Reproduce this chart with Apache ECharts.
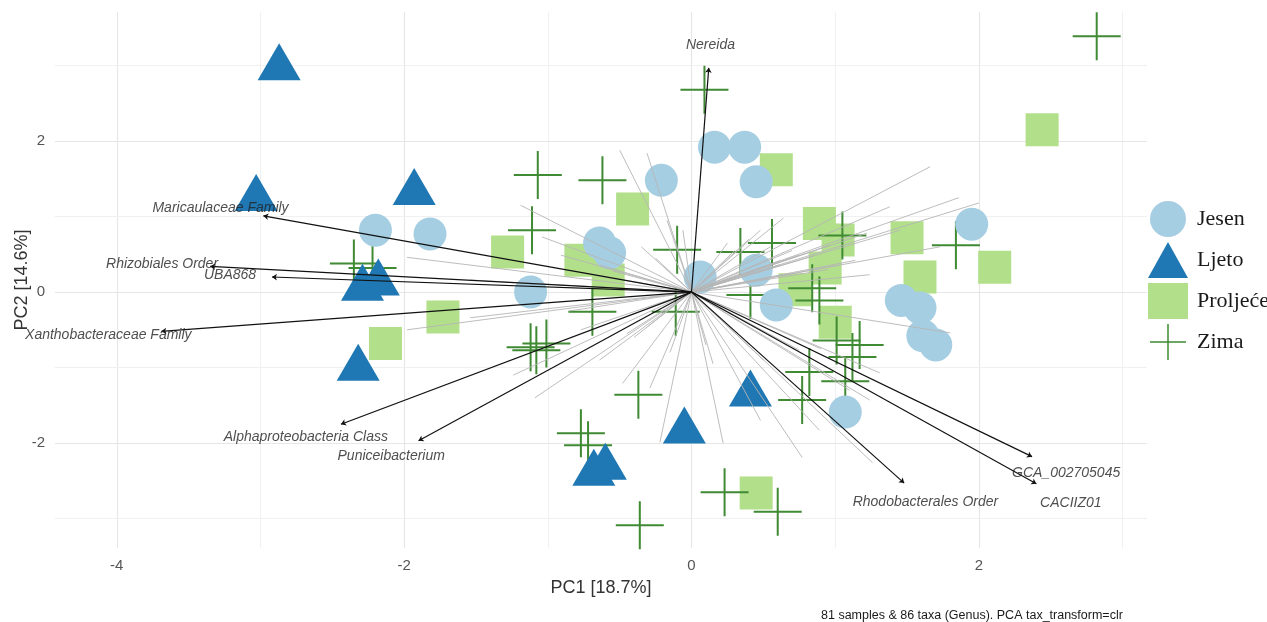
<!DOCTYPE html>
<html><head><meta charset="utf-8">
<script src="https://cdn.jsdelivr.net/npm/echarts@6/dist/echarts.min.js"></script>
<style>html,body{margin:0;padding:0;background:#fff}#c{width:1267px;height:622px}</style>
</head><body><div id="c"></div>
<script>
// ---- data (PC1, PC2) ----
const seasonNames = ['Jesen', 'Ljeto', 'Proljeće', 'Zima'];
const jesenPoints = [[0.16,1.92],[0.37,1.92],[0.45,1.46],[-0.21,1.48],[-0.64,0.65],[-0.57,0.52],[-1.12,0.00],[-2.20,0.82],[-1.82,0.77],[0.06,0.20],[0.45,0.29],[0.59,-0.17],[1.95,0.90],[1.46,-0.11],[1.59,-0.21],[1.61,-0.58],[1.70,-0.70],[1.07,-1.59]];
const ljetoPoints = [[-2.87,3.05],[-3.03,1.32],[-1.93,1.40],[-2.29,0.13],[-2.18,0.20],[-2.32,-0.93],[0.41,-1.27],[-0.05,-1.76],[-0.68,-2.32],[-0.60,-2.24]];
const proljecePoints = [[2.44,2.15],[0.59,1.62],[-0.41,1.10],[-1.28,0.53],[-0.77,0.42],[-0.58,0.16],[-1.73,-0.33],[-2.13,-0.68],[0.89,0.91],[1.02,0.69],[1.50,0.72],[2.11,0.33],[1.59,0.20],[0.93,0.32],[0.72,0.03],[1.00,-0.40],[0.45,-2.66]];
const zimaPoints = [[2.82,3.39],[0.09,2.68],[-1.07,1.55],[-0.62,1.48],[-1.11,0.82],[-0.10,0.56],[0.34,0.53],[0.56,0.65],[1.84,0.62],[1.05,0.75],[-2.35,0.38],[-2.22,0.32],[-0.69,-0.26],[-0.11,-0.26],[-1.12,-0.73],[-1.08,-0.77],[-1.01,-0.68],[-0.37,-1.36],[-0.77,-1.87],[-0.72,-2.03],[0.23,-2.65],[0.60,-2.91],[-0.36,-3.09],[0.41,-0.04],[0.84,0.05],[0.89,-0.11],[1.01,-0.64],[1.17,-0.70],[1.12,-0.86],[0.82,-1.06],[1.07,-1.18],[0.77,-1.43]];

// labelled taxa loadings (arrow tips)
const taxaNames = ['Nereida','Maricaulaceae Family','Rhizobiales Order','UBA868','Xanthobacteraceae Family','Alphaproteobacteria Class','Puniceibacterium','Rhodobacterales Order','GCA_002705045','CACIIZ01'];
const taxaPC1 = [0.12,-2.98,-3.35,-2.92,-3.69,-2.44,-1.90,1.48,2.37,2.40];
const taxaPC2 = [2.97,1.01,0.34,0.20,-0.52,-1.75,-1.97,-2.53,-2.18,-2.54];

// other (unlabelled) taxa loadings
const otherPC1 = [-0.50,-0.31,-1.19,-1.04,-0.17,-0.25,-0.06,-1.98,-0.64,-0.91,-0.77,-1.54,-1.98,-1.54,-1.24,-1.09,-0.77,-0.48,-0.29,-0.22,-0.64,0.22,0.77,1.26,1.31,1.24,1.80,0.48,0.89,0.75,1.66,1.38,1.86,2.00,1.22,1.73,0.64,1.14,1.45,0.96,0.48,0.75,1.24,1.03,0.61,-0.35,0.30,0.10,-0.45,1.10,0.55,0.70,0.85,0.40,0.62,0.95,0.35,0.25,-0.30,-0.40,-0.15,0.15,0.50,0.90,-0.55,-0.85];
const otherPC2 = [1.88,1.84,1.15,0.73,0.95,0.45,0.82,0.46,0.36,0.49,0.26,0.16,-0.50,-0.34,-1.10,-1.40,-0.50,-1.21,-1.27,-1.99,-0.90,-2.00,-2.19,-2.26,-1.07,-1.43,-0.54,-1.70,-1.83,-0.77,1.66,1.13,1.25,1.18,0.78,0.60,0.98,0.42,0.82,0.62,0.82,0.49,0.23,0.36,0.36,0.60,0.55,-0.70,-0.55,-1.30,0.60,0.55,0.48,0.70,0.42,0.30,0.25,0.65,-0.45,-0.60,-0.80,-0.95,-0.90,-0.75,0.28,-0.25];

// axis ticks / text
const xMajorTicks = [-4, -2, 0, 2];
const xMinorTicks = [-3, -1, 1, 3];
const yMajorTicks = [-2, 0, 2];
const yMinorTicks = [-3, -1, 1, 3];
const xTitle = 'PC1 [18.7%]';
const yTitle = 'PC2 [14.6%]';
const caption = '81 samples & 86 taxa (Genus). PCA tax_transform=clr';

// ---- build ----
const colors = {Jesen:'#a6cee3', Ljeto:'#1f78b4', 'Proljeće':'#b2df8a', Zima:'#3f8a33'};
const plusPath = 'path://M23,0H25V23H48V25H25V48H23V25H0V23H23Z';
const labelScale = 1.1;

const gridLines = [];
xMajorTicks.forEach(v => gridLines.push({xAxis: v, lineStyle: {color: '#e6e6e6', width: 1.1}}));
xMinorTicks.forEach(v => gridLines.push({xAxis: v, lineStyle: {color: '#f0f0f0', width: 1}}));
yMajorTicks.forEach(v => gridLines.push({yAxis: v, lineStyle: {color: '#e6e6e6', width: 1.1}}));
yMinorTicks.forEach(v => gridLines.push({yAxis: v, lineStyle: {color: '#f0f0f0', width: 1}}));

const otherLines = otherPC1.map((x, i) => ({coords: [[0, 0], [x, otherPC2[i]]]}));
const taxaLines = taxaPC1.map((x, i) => ({coords: [[0, 0], [x, taxaPC2[i]]]}));
const taxaLabels = taxaNames.map((n, i) => ({name: n, value: [taxaPC1[i] * labelScale, taxaPC2[i] * labelScale]}));

const chart = echarts.init(document.getElementById('c'), null, {renderer: 'canvas'});
chart.setOption({
  animation: false,
  backgroundColor: '#ffffff',
  textStyle: {fontFamily: 'Liberation Sans, Arial, sans-serif'},
  title: {
    text: caption, left: 816, top: 604,
    textStyle: {fontSize: 12.5, fontWeight: 'normal', color: '#1a1a1a', fontFamily: 'Liberation Sans, Arial, sans-serif'}
  },
  grid: {left: 55, right: 120, top: 12, bottom: 74, containLabel: false, outerBoundsMode: 'none'},
  legend: {
    orient: 'vertical', left: 1143, top: 196,
    itemWidth: 40, itemHeight: 36, itemGap: 5,
    textStyle: {fontFamily: 'Liberation Serif, Times New Roman, serif', fontSize: 22, color: '#1a1a1a', padding: [0,0,0,4]},
    data: [
      {name: 'Jesen', icon: 'circle'},
      {name: 'Ljeto', icon: 'triangle'},
      {name: 'Proljeće', icon: 'rect'},
      {name: 'Zima', icon: plusPath}
    ]
  },
  xAxis: {
    type: 'value', min: -4.43, max: 3.17,
    name: xTitle, nameLocation: 'middle', nameGap: 31, nameMoveOverlap: false,
    nameTextStyle: {fontSize: 18, color: '#333'},
    axisLine: {show: false}, axisTick: {show: false}, splitLine: {show: false},
    axisLabel: {customValues: xMajorTicks, fontSize: 15, color: '#555', margin: 10}
  },
  yAxis: {
    type: 'value', min: -3.39, max: 3.71,
    name: yTitle, nameLocation: 'middle', nameGap: 24, nameMoveOverlap: false,
    nameTextStyle: {fontSize: 18, color: '#333'},
    axisLine: {show: false}, axisTick: {show: false}, splitLine: {show: false},
    axisLabel: {customValues: yMajorTicks, fontSize: 15, color: '#555', margin: 10}
  },
  series: [
    {
      type: 'scatter', name: '_grid', data: [], silent: true, z: 0,
      markLine: {silent: true, z: 0, symbol: 'none', label: {show: false}, animation: false,
        lineStyle: {type: 'solid'}, data: gridLines}
    },
    {type: 'scatter', name: 'Proljeće', data: proljecePoints, symbol: 'rect', symbolSize: 33,
      itemStyle: {color: colors['Proljeće'], opacity: 1}, z: 2},
    {type: 'scatter', name: 'Zima', data: zimaPoints, symbol: plusPath, symbolSize: 48,
      itemStyle: {color: colors.Zima, opacity: 1}, z: 3},
    {type: 'scatter', name: 'Ljeto', data: ljetoPoints, symbol: 'triangle', symbolSize: [43, 37],
      itemStyle: {color: colors.Ljeto, opacity: 1}, z: 4},
    {type: 'scatter', name: 'Jesen', data: jesenPoints, symbol: 'circle', symbolSize: 33,
      itemStyle: {color: colors.Jesen, opacity: 1}, z: 5},
    {type: 'lines', name: '_other', coordinateSystem: 'cartesian2d', data: otherLines, silent: true, z: 6,
      lineStyle: {color: '#b5b5b5', width: 0.9, opacity: 1}},
    {type: 'lines', name: '_taxa', coordinateSystem: 'cartesian2d', data: taxaLines, silent: true, z: 7,
      symbol: ['none', 'arrow'], symbolSize: 5,
      lineStyle: {color: '#111', width: 1.2, opacity: 1}},
    {type: 'scatter', name: '_labels', data: taxaLabels, symbolSize: 0, silent: true, z: 8, clip: false,
      label: {show: true, position: 'inside', formatter: '{b}', fontStyle: 'italic', fontSize: 14, color: '#222',
        fontFamily: 'Liberation Sans, Arial, sans-serif'}}
  ]
});
</script></body></html>
